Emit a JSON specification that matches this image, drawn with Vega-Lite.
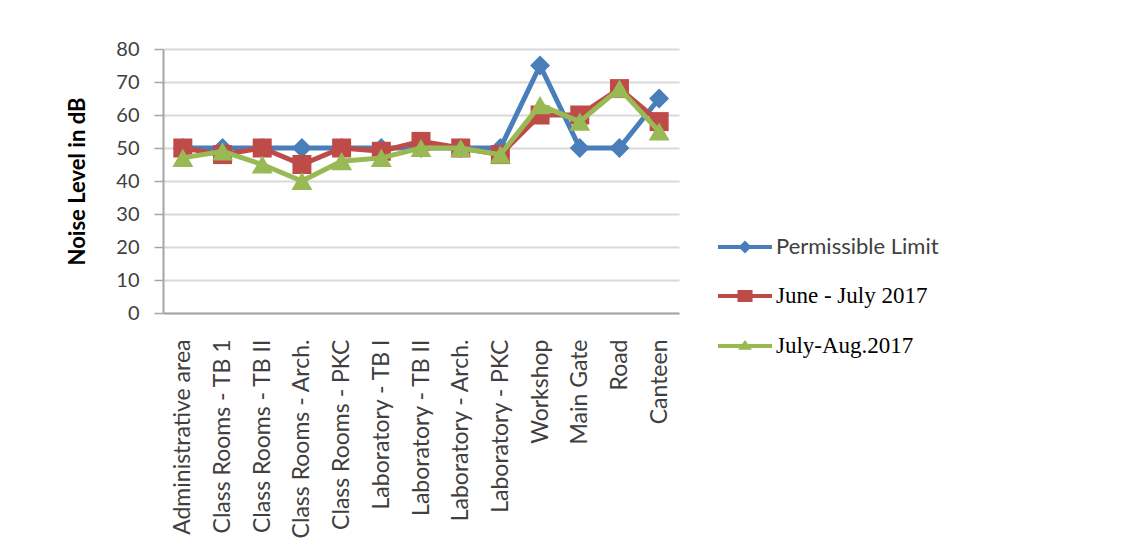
{
  "$schema": "https://vega.github.io/schema/vega-lite/v6.json",
  "width": 516,
  "height": 264,
  "padding": {"left": 66, "top": 39, "right": 5, "bottom": 5},
  "background": "white",
  "config": {
    "view": {"stroke": null},
    "font": "Lato",
    "axis": {
      "labelFont": "Lato",
      "labelColor": "#404040",
      "domainColor": "#a6a6a6",
      "domainWidth": 2,
      "tickColor": "#a6a6a6",
      "tickWidth": 1.5,
      "gridColor": "#d9d9d9",
      "gridWidth": 2
    }
  },
  "data": {
    "values": [
      {"location": "Administrative area", "series": "Permissible Limit", "db": 50},
      {"location": "Class Rooms - TB 1", "series": "Permissible Limit", "db": 50},
      {"location": "Class Rooms - TB II", "series": "Permissible Limit", "db": 50},
      {"location": "Class Rooms - Arch.", "series": "Permissible Limit", "db": 50},
      {"location": "Class Rooms - PKC", "series": "Permissible Limit", "db": 50},
      {"location": "Laboratory - TB I", "series": "Permissible Limit", "db": 50},
      {"location": "Laboratory - TB II", "series": "Permissible Limit", "db": 50},
      {"location": "Laboratory - Arch.", "series": "Permissible Limit", "db": 50},
      {"location": "Laboratory - PKC", "series": "Permissible Limit", "db": 50},
      {"location": "Workshop", "series": "Permissible Limit", "db": 75},
      {"location": "Main Gate", "series": "Permissible Limit", "db": 50},
      {"location": "Road", "series": "Permissible Limit", "db": 50},
      {"location": "Canteen", "series": "Permissible Limit", "db": 65},
      {"location": "Administrative area", "series": "June - July 2017", "db": 50},
      {"location": "Class Rooms - TB 1", "series": "June - July 2017", "db": 48},
      {"location": "Class Rooms - TB II", "series": "June - July 2017", "db": 50},
      {"location": "Class Rooms - Arch.", "series": "June - July 2017", "db": 45},
      {"location": "Class Rooms - PKC", "series": "June - July 2017", "db": 50},
      {"location": "Laboratory - TB I", "series": "June - July 2017", "db": 49},
      {"location": "Laboratory - TB II", "series": "June - July 2017", "db": 52},
      {"location": "Laboratory - Arch.", "series": "June - July 2017", "db": 50},
      {"location": "Laboratory - PKC", "series": "June - July 2017", "db": 48},
      {"location": "Workshop", "series": "June - July 2017", "db": 60},
      {"location": "Main Gate", "series": "June - July 2017", "db": 60},
      {"location": "Road", "series": "June - July 2017", "db": 68},
      {"location": "Canteen", "series": "June - July 2017", "db": 58},
      {"location": "Administrative area", "series": "July-Aug.2017", "db": 47},
      {"location": "Class Rooms - TB 1", "series": "July-Aug.2017", "db": 49},
      {"location": "Class Rooms - TB II", "series": "July-Aug.2017", "db": 45},
      {"location": "Class Rooms - Arch.", "series": "July-Aug.2017", "db": 40},
      {"location": "Class Rooms - PKC", "series": "July-Aug.2017", "db": 46},
      {"location": "Laboratory - TB I", "series": "July-Aug.2017", "db": 47},
      {"location": "Laboratory - TB II", "series": "July-Aug.2017", "db": 50},
      {"location": "Laboratory - Arch.", "series": "July-Aug.2017", "db": 50},
      {"location": "Laboratory - PKC", "series": "July-Aug.2017", "db": 48},
      {"location": "Workshop", "series": "July-Aug.2017", "db": 63},
      {"location": "Main Gate", "series": "July-Aug.2017", "db": 58},
      {"location": "Road", "series": "July-Aug.2017", "db": 68},
      {"location": "Canteen", "series": "July-Aug.2017", "db": 55}
    ]
  },
  "encoding": {
    "x": {
      "field": "location",
      "type": "nominal",
      "sort": null,
      "scale": {"type": "point", "padding": 0.5},
      "axis": {
        "title": null,
        "labelAngle": -90,
        "labelFontSize": 23,
        "ticks": false,
        "labelPadding": 26,
        "labelLimit": 300
      }
    },
    "y": {
      "field": "db",
      "type": "quantitative",
      "scale": {"domain": [0, 80], "nice": false},
      "axis": {
        "title": "Noise Level in dB",
        "titleFont": "Lato",
        "titleFontSize": 22,
        "titleFontWeight": "bold",
        "titleColor": "#000000",
        "titlePadding": 26,
        "values": [0, 10, 20, 30, 40, 50, 60, 70, 80],
        "labelFontSize": 20,
        "tickSize": 9,
        "labelPadding": 15
      }
    },
    "color": {
      "field": "series",
      "type": "nominal",
      "scale": {
        "domain": ["Permissible Limit", "June - July 2017", "July-Aug.2017"],
        "range": ["#4a7ebb", "#be4b48", "#98b954"]
      },
      "legend": {
        "title": null,
        "orient": "none",
        "legendX": 555,
        "legendY": 171,
        "symbolSize": 2916,
        "rowPadding": 11,
        "labelOffset": 4,
        "labelFontSize": 22,
        "labelLimit": 320,
        "encode": {
          "symbols": {
            "update": {
              "shape": {"signal": "datum.value == 'Permissible Limit' ? 'M-1,-0.07H1V0.07H-1Z M0,-0.24L0.24,0L0,0.24L-0.24,0Z' : datum.value == 'June - July 2017' ? 'M-1,-0.07H1V0.07H-1Z M-0.28,-0.22H0.28V0.22H-0.28Z' : 'M-1,-0.07H1V0.07H-1Z M0,-0.22L0.26,0.14H-0.26Z'"},
              "fill": {"signal": "scale('color', datum.value)"},
              "stroke": {"value": "transparent"},
              "strokeWidth": {"value": 0},
              "opacity": {"value": 1}
            }
          },
          "labels": {
            "update": {
              "font": {"signal": "datum.value == 'Permissible Limit' ? 'Lato' : 'Liberation Serif'"},
              "fontSize": {"signal": "datum.value == 'Permissible Limit' ? 22 : 23"},
              "fill": {"signal": "datum.value == 'Permissible Limit' ? '#404040' : '#000000'"}
            }
          }
        }
      }
    }
  },
  "layer": [
    {
      "transform": [{"filter": "datum.series == 'Permissible Limit'"}],
      "mark": {"type": "line", "strokeWidth": 5}
    },
    {
      "transform": [{"filter": "datum.series == 'Permissible Limit'"}],
      "mark": {"type": "point", "filled": true, "opacity": 1, "shape": "diamond", "size": 400}
    },
    {
      "transform": [{"filter": "datum.series == 'June - July 2017'"}],
      "mark": {"type": "line", "strokeWidth": 5}
    },
    {
      "transform": [{"filter": "datum.series == 'June - July 2017'"}],
      "mark": {"type": "point", "filled": true, "opacity": 1, "shape": "square", "size": 361}
    },
    {
      "transform": [{"filter": "datum.series == 'July-Aug.2017'"}],
      "mark": {"type": "line", "strokeWidth": 5}
    },
    {
      "transform": [{"filter": "datum.series == 'July-Aug.2017'"}],
      "mark": {"type": "point", "filled": true, "opacity": 1, "shape": "triangle-up", "size": 441}
    }
  ]
}
